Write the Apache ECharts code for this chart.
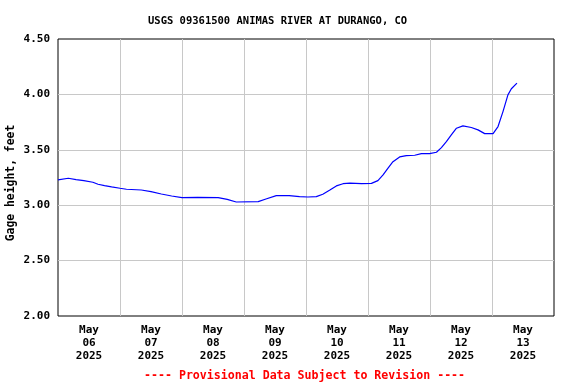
<!DOCTYPE html>
<html>
<head>
<meta charset="utf-8">
<script src="https://cdn.jsdelivr.net/npm/echarts@6/dist/echarts.min.js"></script>
<style>
html,body{margin:0;padding:0;background:#fff;}
#chart{width:576px;height:384px;}
</style>
</head>
<body>
<div id="chart"></div>
<script>
// Time stamps (2025) and gage height in feet
var times = [
  "05-06 00:00","05-06 04:00","05-06 07:00","05-06 10:00","05-06 13:30","05-06 15:30","05-06 18:00","05-06 20:45",
  "05-07 00:00","05-07 02:30","05-07 08:15","05-07 12:00","05-07 16:00","05-07 20:00",
  "05-08 00:00","05-08 06:00","05-08 14:00","05-08 17:30","05-08 21:00",
  "05-09 05:30","05-09 08:30","05-09 12:30","05-09 17:30","05-09 21:30",
  "05-10 00:45","05-10 04:00","05-10 06:30","05-10 09:15","05-10 11:45","05-10 14:20","05-10 17:00","05-10 21:30",
  "05-11 01:20","05-11 03:50","05-11 05:50","05-11 07:45","05-11 09:40","05-11 12:15","05-11 14:50","05-11 18:05","05-11 20:40","05-11 23:50",
  "05-12 00:30","05-12 02:30","05-12 04:25","05-12 06:20","05-12 08:15","05-12 10:15","05-12 12:45","05-12 16:00","05-12 18:35","05-12 21:10",
  "05-13 00:25","05-13 02:20","05-13 04:15","05-13 06:10","05-13 07:30","05-13 09:40"
];
var heights = [
  3.228,3.243,3.231,3.222,3.207,3.189,3.176,3.165,
  3.153,3.144,3.137,3.122,3.101,3.083,
  3.068,3.071,3.068,3.053,3.029,
  3.032,3.056,3.086,3.086,3.077,
  3.074,3.077,3.099,3.137,3.174,3.194,3.200,3.194,
  3.197,3.222,3.273,3.334,3.393,3.436,3.448,3.451,3.466,3.466,
  3.460,3.478,3.520,3.574,3.635,3.695,3.716,3.701,3.680,3.646,
  3.646,3.710,3.845,3.996,4.051,4.102
];
var dayLabels = ["May\n06\n2025","May\n07\n2025","May\n08\n2025","May\n09\n2025","May\n10\n2025","May\n11\n2025","May\n12\n2025","May\n13\n2025"];
var yTicks = [2.0, 2.5, 3.0, 3.5, 4.0, 4.5];
var titleText = "USGS 09361500 ANIMAS RIVER AT DURANGO, CO";
var footerText = "---- Provisional Data Subject to Revision ----";
var yName = "Gage height, feet";

function toHours(s) {
  var d = parseInt(s.slice(3,5),10) - 6;
  var h = parseInt(s.slice(6,8),10);
  var m = parseInt(s.slice(9,11),10);
  return d*24 + h + m/60;
}
var seriesData = times.map(function(t,i){ return [toHours(t), heights[i]]; });

var FONT = "'DejaVu Sans Mono', monospace";
var chart = echarts.init(document.getElementById('chart'), null, {renderer:'canvas'});
chart.setOption({
  animation:false,
  backgroundColor:'#fff',
  title:[
    {text:titleText, left:143, top:11, textStyle:{fontFamily:FONT, fontSize:10.5, fontWeight:'bold', color:'#000'}},
    {text:footerText, left:139, top:365, textStyle:{fontFamily:FONT, fontSize:11.6, fontWeight:'bold', color:'#ff0000'}}
  ],
  graphic:[{type:'text', x:11, y:183, rotation:Math.PI/2,
    style:{text:yName, fontFamily:FONT, fontSize:11.4, fontWeight:'bold', fill:'#000', align:'center', verticalAlign:'middle'}}],
  grid:{left:58, top:39, width:496, height:277, show:true, borderColor:'#000', borderWidth:1, backgroundColor:'transparent', containLabel:false, outerBoundsMode:'none'},
  xAxis:[
    {type:'value', min:0, max:192, interval:24,
     axisLine:{show:false}, axisTick:{show:false}, axisLabel:{show:false},
     splitLine:{show:true, showMinLine:false, showMaxLine:false, lineStyle:{color:'#c8c8c8', width:1}}},
    {type:'category', data:dayLabels, boundaryGap:true, position:'bottom',
     axisLine:{show:false}, axisTick:{show:false}, splitLine:{show:false},
     axisLabel:{interval:0, margin:8, fontFamily:FONT, fontSize:11, fontWeight:'bold', color:'#000', lineHeight:13}}
  ],
  yAxis:{type:'value', min:yTicks[0], max:yTicks[yTicks.length-1], interval:0.5,
    axisLine:{show:false}, axisTick:{show:false},
    axisLabel:{margin:8, fontFamily:FONT, fontSize:11, fontWeight:'bold', color:'#000', formatter:function(v){return v.toFixed(2);}},
    splitLine:{show:true, showMinLine:false, showMaxLine:false, lineStyle:{color:'#c8c8c8', width:1}}},
  series:[{type:'line', xAxisIndex:0, data:seriesData, showSymbol:false, symbol:'none',
    lineStyle:{color:'#0000ff', width:1.2}, z:5}]
});
</script>
</body>
</html>
